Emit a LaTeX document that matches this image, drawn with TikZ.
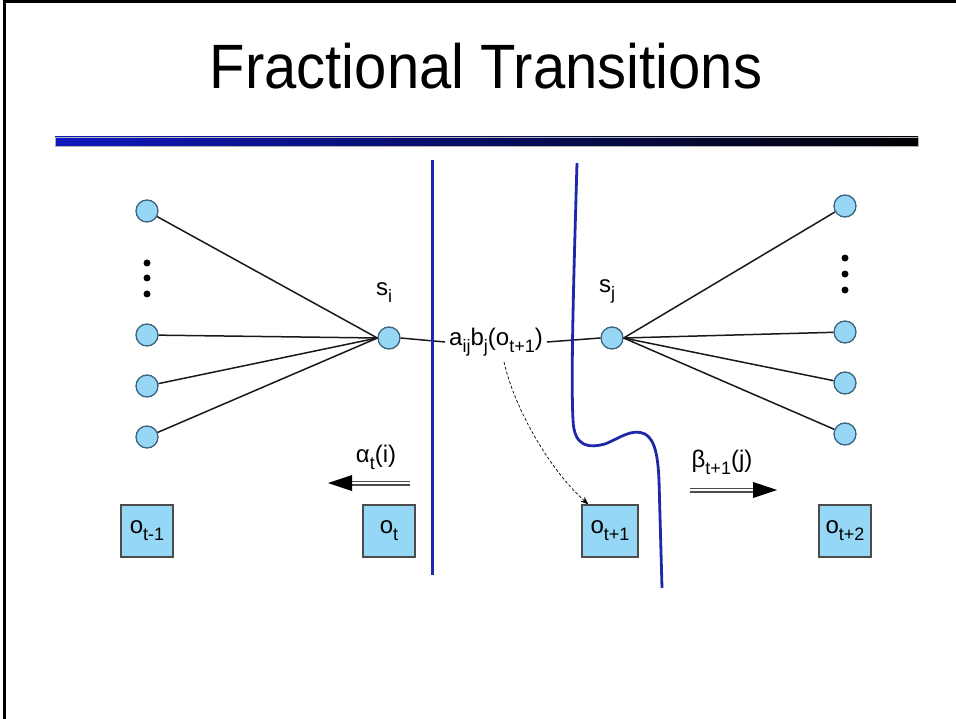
\documentclass[tikz,border=0pt]{standalone}
\usepackage{fontspec}
\setmainfont{Liberation Sans}
\usepackage{xcolor}
\usepackage{graphicx}
\usepackage{tikz}
\usetikzlibrary{
  arrows.meta,
  positioning,
  calc
}
\definecolor{statefill}{RGB}{150,215,245}
\definecolor{statedraw}{RGB}{60,100,125}
\definecolor{cutblue}{RGB}{30,40,170}
\definecolor{barblue}{RGB}{15,25,190}
\newcommand{\lblfont}{\fontsize{24}{28}\selectfont}
\newcommand{\sub}[1]{\raisebox{-7pt}{\fontsize{18}{20}\selectfont #1}}
\tikzset{
  statenode/.style={
    circle,
    draw=statedraw,
    fill=statefill,
    line width=1.3pt,
    minimum size=22pt,
    inner sep=0pt,
  },
  obsbox/.style={
    draw=gray!60!black,
    fill=statefill,
    line width=1.1pt,
    minimum width=52pt,
    minimum height=52pt,
    inner sep=0pt,
    font=\lblfont,
  },
  lbl/.style={
    font=\lblfont,
    inner sep=3pt,
  },
  edge/.style={
    line width=1.5pt,
    draw=black!90,
  },
  cut/.style={
    line width=2.8pt,
    draw=cutblue,
  },
  flow/.style={
    double=white,
    double distance=2.6pt,
    line width=1.2pt,
    draw=black!70,
  },
  vdot/.style={
    circle,
    fill=black,
    minimum size=7pt,
    inner sep=0pt,
  },
}

\begin{document}
\begin{tikzpicture}[x=1pt, y=-1pt]
  \useasboundingbox (0,0) rectangle (956,719);
  % slide frame and title
  \draw[line width=3pt] (4,719) -- (4,2) -- (956,2);
  \node[font=\fontsize{58}{62}\selectfont, anchor=base, inner sep=0pt] (title) at (486,89)
    {\scalebox{1}[1.08]{Fractional Transitions}};
  \shade[left color=barblue, right color=black, draw=gray!60] (55,137) rectangle (918,146);

  % left states
  \node[statenode] (l1) at (147,211) {};
  \node[statenode] (l2) at (147,335) {};
  \node[statenode] (l3) at (147,386) {};
  \node[statenode] (l4) at (147,437) {};
  \foreach \y in {263,278,294} \node[vdot] at (147,\y) {};

  \node[statenode] (si) at (389,338) {};
  \node[lbl] (silbl) at (384,293) {s\sub{i}};

  % right states
  \node[statenode] (r1) at (845,206) {};
  \node[statenode] (r2) at (845,332) {};
  \node[statenode] (r3) at (845,383) {};
  \node[statenode] (r4) at (845,434) {};
  \foreach \y in {258,274,290} \node[vdot] at (845,\y) {};

  \node[statenode] (sj) at (612,338) {};
  \node[lbl] (sjlbl) at (607,291) {s\sub{j}};

  \foreach \n in {l1,l2,l3,l4} \draw[edge] (\n) -- (si.west);
  \foreach \n in {r1,r2,r3,r4} \draw[edge] (\n) -- (sj.east);

  % transition label
  \node[lbl, inner sep=4pt] (ab) at (496,342) {a\sub{ij}b\sub{j}(o\sub{t+1})};
  \draw[edge] (si.east) -- (ab.west);
  \draw[edge] (ab.east) -- (sj.west);

  % observations
  \node[obsbox] (om1) at (147,531) {o\sub{t-1}};
  \node[obsbox] (o0)  at (389,531) {o\sub{t}};
  \node[obsbox, minimum width=56pt] (op1) at (610,531) {o\sub{t+1}};
  \node[obsbox] (op2) at (845,531) {o\sub{t+2}};

  \draw[dash pattern=on 3pt off 2pt, line width=0.7pt, -{Stealth[length=8pt,width=6pt]}] (504,362)
    .. controls (515,410) and (550,470) .. ([xshift=7pt]op1.north west);

  % cuts
  \draw[cut] (432.5,160) -- (432.5,575);
  \draw[cut] (577,163) .. controls (573,300) and (571,380) .. (573,420)
    .. controls (574,448) and (590,448) .. (605,444)
    .. controls (620,438) and (632,428) .. (645,434)
    .. controls (656,440) and (658,460) .. (659,480) -- (662,588);

  % forward / backward flows
  \coordinate (aS) at (410,483);
  \coordinate (aE) at (350,483);
  \coordinate (aT) at (328,483);
  \draw[flow] (aS) -- (aE);
  \fill (aT) -- ($(aE)+(2,-8)$) -- ($(aE)+(2,8)$) -- cycle;
  \node[lbl] (alpha) at (376,457) {α\sub{t}(i)};

  \coordinate (bS) at (690,490);
  \coordinate (bE) at (755,490);
  \coordinate (bT) at (777,490);
  \draw[flow] (bS) -- (bE);
  \fill (bT) -- ($(bE)+(-2,-8)$) -- ($(bE)+(-2,8)$) -- cycle;
  \node[lbl] (beta) at (722,462) {β\sub{t+1}(j)};
\end{tikzpicture}
\end{document}
